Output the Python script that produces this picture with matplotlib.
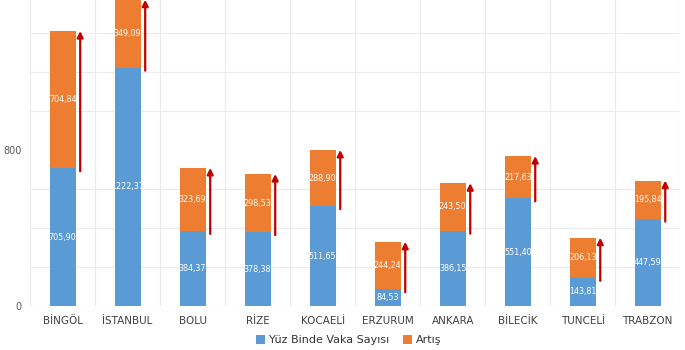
import matplotlib.pyplot as plt
import numpy as np

iller = ['BİNGÖL', 'İSTANBUL', 'BOLU', 'RİZE', 'KOCAELİ', 'ERZURUM',
         'ANKARA', 'BİLECİK', 'TUNCELİ', 'TRABZON']
vaka = [705.90, 1222.37, 384.37, 378.38, 511.65, 84.53, 386.15, 551.40, 143.81, 447.59]
artis = [704.84, 349.09, 323.69, 298.53, 288.90, 244.24, 243.50, 217.63, 206.13, 195.84]

mavi = '#5B9BD5'
turuncu = '#ED7D31'
kirmizi = '#C00000'
yazi = '#595959'

def fmt(v):
    return f'{v:.2f}'.replace('.', ',')

fig = plt.figure(figsize=(6.85, 3.5), dpi=100)
ax = fig.add_axes([0.044, 0.126, 0.949, 0.874])

x = np.arange(len(iller))
w = 0.4
b1 = ax.bar(x, vaka, w, color=mavi, label='Yüz Binde Vaka Sayısı', zorder=2)
b2 = ax.bar(x, artis, w, bottom=vaka, color=turuncu, label='Artış', zorder=2)

for i in range(len(iller)):
    ax.text(x[i], vaka[i] / 2, fmt(vaka[i]), ha='center', va='center',
            color='white', fontsize=5.8, zorder=3)
    ax.text(x[i], vaka[i] + artis[i] / 2, fmt(artis[i]), ha='center', va='center',
            color='white', fontsize=5.8, zorder=3)
    ax.annotate('', xy=(x[i] + 0.27, vaka[i] + artis[i]),
                xytext=(x[i] + 0.27, vaka[i] - 15),
                arrowprops=dict(arrowstyle='-|>', color=kirmizi, lw=1.6,
                                mutation_scale=9, shrinkA=0, shrinkB=0),
                zorder=4)

ax.set_xlim(-0.5, len(iller) - 0.5)
ax.set_ylim(0, 1570)
ax.set_yticks([0, 800])
ax.set_yticks(np.arange(0, 1600, 200), minor=True)
ax.set_xticks(x)
ax.set_xticklabels(iller, fontsize=7.5, color='#404040')
ax.set_xticks(np.arange(-0.5, len(iller), 1), minor=True)
ax.tick_params(axis='y', labelsize=7, colors=yazi, length=0, pad=6)
ax.tick_params(axis='x', length=0, pad=7)
ax.tick_params(which='minor', length=0)
ax.grid(True, which='minor', color='#EBEBEB', lw=0.8, zorder=0)
ax.axhline(0, color='#D9D9D9', lw=0.8, zorder=1)
for s in ax.spines.values():
    s.set_visible(False)

ax.legend(loc='upper center', bbox_to_anchor=(0.49, -0.07), ncol=2, frameon=False,
          fontsize=8, handlelength=0.8, handleheight=0.8, handletextpad=0.4,
          columnspacing=1.2, labelcolor='#333333', borderpad=0.2)

plt.savefig('out.png', dpi=100)
